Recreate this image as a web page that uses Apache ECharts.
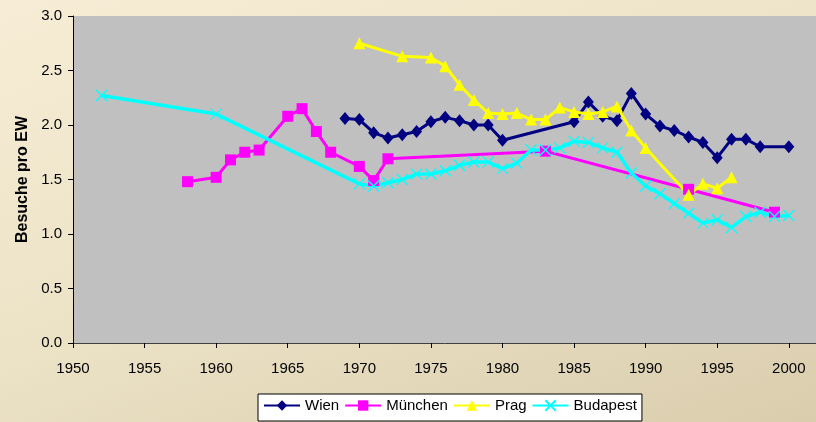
<!DOCTYPE html>
<html>
<head>
<meta charset="utf-8">
<script src="https://cdn.jsdelivr.net/npm/echarts@6/dist/echarts.min.js"></script>
<style>
  html, body { margin: 0; padding: 0; }
  body { width: 816px; height: 422px; background: linear-gradient(160deg, #f7edd6 0%, #ece2c6 50%, #d9cdad 100%); }
  #chart { width: 816px; height: 422px; }
</style>
</head>
<body>
<div id="chart"></div>
<script>
// Besuche pro Einwohner
const wienYears = [1969, 1970, 1971, 1972, 1973, 1974, 1975, 1976, 1977, 1978, 1979, 1980, 1985, 1986, 1987, 1988, 1989, 1990, 1991, 1992, 1993, 1994, 1995, 1996, 1997, 1998, 2000]
const wienValues = [2.06, 2.05, 1.93, 1.88, 1.91, 1.94, 2.03, 2.07, 2.04, 2.00, 2.00, 1.86, 2.03, 2.21, 2.08, 2.04, 2.29, 2.10, 1.99, 1.95, 1.89, 1.84, 1.70, 1.87, 1.87, 1.80, 1.80]

const muenchenYears = [1958, 1960, 1961, 1962, 1963, 1965, 1966, 1967, 1968, 1970, 1971, 1972, 1983, 1993, 1999]
const muenchenValues = [1.48, 1.52, 1.68, 1.75, 1.77, 2.08, 2.15, 1.94, 1.75, 1.62, 1.49, 1.69, 1.76, 1.41, 1.20]

const pragYears = [1970, 1973, 1975, 1976, 1977, 1978, 1979, 1980, 1981, 1982, 1983, 1984, 1985, 1986, 1987, 1988, 1989, 1990, 1993, 1994, 1995, 1996]
const pragValues = [2.75, 2.63, 2.62, 2.54, 2.37, 2.23, 2.11, 2.10, 2.11, 2.05, 2.05, 2.16, 2.12, 2.10, 2.12, 2.17, 1.95, 1.79, 1.36, 1.46, 1.42, 1.52]

const budapestYears = [1952, 1960, 1970, 1971, 1972, 1973, 1974, 1975, 1976, 1977, 1978, 1979, 1980, 1981, 1982, 1983, 1984, 1985, 1986, 1987, 1988, 1989, 1990, 1991, 1992, 1993, 1994, 1995, 1996, 1997, 1998, 1999, 2000]
const budapestValues = [2.27, 2.10, 1.46, 1.44, 1.47, 1.50, 1.55, 1.55, 1.58, 1.63, 1.66, 1.66, 1.60, 1.65, 1.77, 1.77, 1.79, 1.85, 1.84, 1.79, 1.75, 1.56, 1.44, 1.37, 1.28, 1.19, 1.10, 1.13, 1.06, 1.16, 1.20, 1.16, 1.17]

const pairs = (xs, ys) => xs.map((x, i) => [x, ys[i]])
const font = '"Liberation Sans", Arial, sans-serif'

const chart = echarts.init(document.getElementById('chart'))
chart.setOption({
  animation: false,
  backgroundColor: 'transparent',
  textStyle: { fontFamily: font },
  grid: {
    left: 73,
    right: 0,
    top: 16,
    bottom: 79,
    show: true,
    backgroundColor: '#c0c0c0',
    borderWidth: 0
  },
  legend: {
    left: 258,
    top: 394,
    backgroundColor: '#ffffff',
    borderColor: '#000000',
    borderWidth: 1,
    borderRadius: 0,
    padding: [4, 5, 8, 5],
    itemWidth: 36,
    itemHeight: 13,
    itemGap: 5,
    textStyle: { fontSize: 15, color: '#000', fontFamily: font },
    data: ['Wien', 'München', 'Prag', 'Budapest']
  },
  xAxis: {
    type: 'value',
    min: 1950,
    max: 2001.9,
    interval: 5,
    axisLine: { onZero: false, lineStyle: { color: '#404040', width: 1 } },
    axisTick: { length: 5, lineStyle: { color: '#000' } },
    axisLabel: { color: '#000', fontSize: 15, margin: 18, showMaxLabel: false, fontFamily: font, formatter: v => String(v) },
    splitLine: { show: false }
  },
  yAxis: {
    type: 'value',
    min: 0,
    max: 3,
    interval: 0.5,
    name: 'Besuche pro EW',
    nameLocation: 'middle',
    nameGap: 42,
    nameTextStyle: { fontSize: 16, fontWeight: 'bold', color: '#000', fontFamily: font },
    axisLine: { show: true, lineStyle: { color: '#000', width: 1 } },
    axisTick: { show: true, length: 5, lineStyle: { color: '#000' } },
    axisLabel: { color: '#000', fontSize: 15, margin: 11, fontFamily: font, formatter: v => v.toFixed(1) },
    splitLine: { show: false }
  },
  series: [
    {
      name: 'Wien',
      type: 'line',
      data: pairs(wienYears, wienValues),
      symbol: 'diamond',
      symbolSize: [11, 13],
      lineStyle: { color: '#000080', width: 3 },
      itemStyle: { color: '#000080' }
    },
    {
      name: 'München',
      type: 'line',
      data: pairs(muenchenYears, muenchenValues),
      symbol: 'rect',
      symbolSize: 11,
      lineStyle: { color: '#ff00ff', width: 3 },
      itemStyle: { color: '#ff00ff' }
    },
    {
      name: 'Prag',
      type: 'line',
      data: pairs(pragYears, pragValues),
      symbol: 'triangle',
      symbolSize: 12,
      lineStyle: { color: '#ffff00', width: 3 },
      itemStyle: { color: '#ffff00' }
    },
    {
      name: 'Budapest',
      type: 'line',
      data: pairs(budapestYears, budapestValues),
      symbol: 'path://M0,0L10,10M10,0L0,10',
      symbolSize: 11,
      lineStyle: { color: '#00ffff', width: 3.5 },
      itemStyle: { color: 'rgba(0,0,0,0)', borderColor: '#00ffff', borderWidth: 1.3 }
    }
  ]
})
</script>
</body>
</html>
